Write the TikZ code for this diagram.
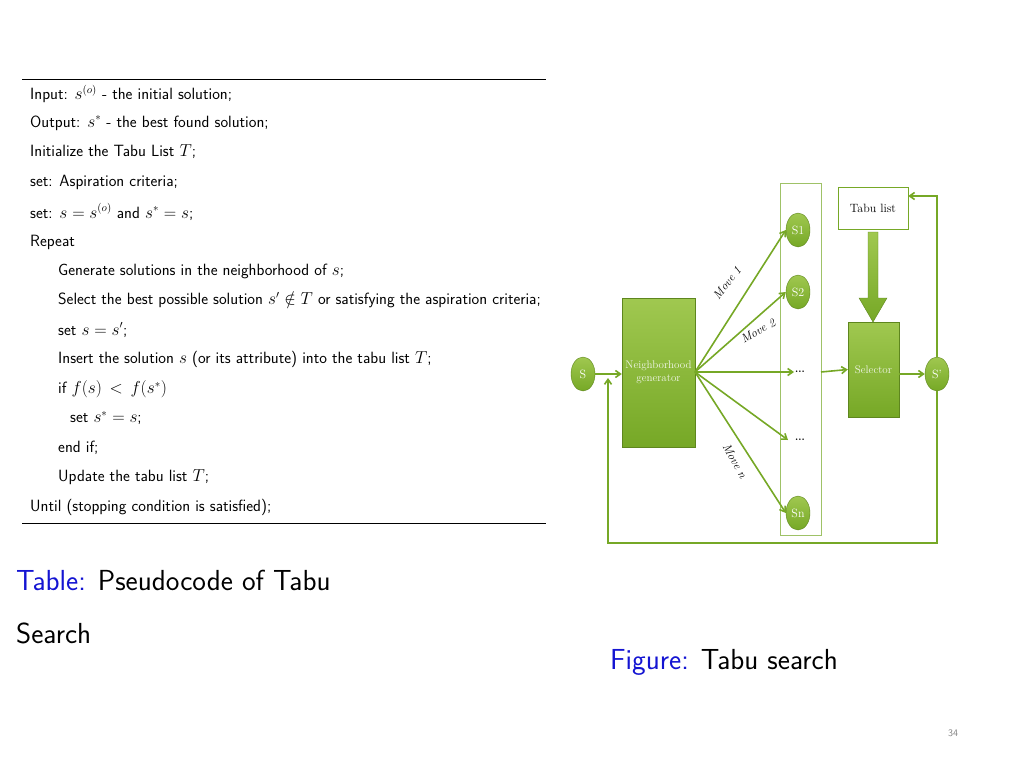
\documentclass[tikz,border=0pt]{standalone}
\usepackage{amsmath,amssymb}
\usetikzlibrary{arrows.meta,shapes.geometric}
\definecolor{gr}{RGB}{118,168,38}
\definecolor{grl}{RGB}{160,200,80}
\definecolor{capblue}{RGB}{20,20,210}
\begin{document}
\begin{tikzpicture}[x=1pt,y=-1pt,
  code/.style={anchor=west,font=\sffamily\fontsize{16.3}{18}\selectfont,inner sep=0},
  gbox/.style={draw=gr!80!black,top color=grl,bottom color=gr,text=white!90!gr,font=\rmfamily\fontsize{11}{13}\selectfont,align=center,inner sep=1},
  gell/.style={ellipse,draw=gr!80!black,top color=grl,bottom color=gr,text=white,font=\rmfamily\fontsize{12}{13}\selectfont,minimum width=24,minimum height=34,inner sep=0},
  ar/.style={draw=gr,line width=1.6pt,-{Straight Barb[length=5pt,width=7pt]}},
  mv/.style={font=\rmfamily\itshape\fontsize{12}{13}\selectfont,inner sep=0}]
\useasboundingbox (0,0) rectangle (1024,768);
% pseudocode
\draw[line width=0.8pt] (22,79) -- (546,79);
\draw[line width=0.8pt] (22,523) -- (546,523);
\node[code] (l1) at (30,94) {Input: $s^{(o)}$ - the initial solution;};
\node[code] (l2) at (30,123) {Output: $s^*$ - the best found solution;};
\node[code] (l3) at (30,152) {Initialize the Tabu List $T$;};
\node[code] (l4) at (30,182) {set: Aspiration criteria;};
\node[code] (l5) at (30,212) {set: $s=s^{(o)}$ and $s^*=s$;};
\node[code] (l6) at (30,242) {Repeat};
\node[code] (l7) at (58,271) {Generate solutions in the neighborhood of $s$;};
\node[code] (l8) at (58,300) {Select the best possible solution $s'\notin T$ or satisfying the aspiration criteria;};
\node[code] (l9) at (58,330) {set $s=s'$;};
\node[code] (l10) at (58,359) {Insert the solution $s$ (or its attribute) into the tabu list $T$;};
\node[code] (l11) at (58,389) {if $f(s)\,<\,f(s^*)$};
\node[code] (l12) at (70,418) {set $s^*=s$;};
\node[code] (l13) at (58,448) {end if;};
\node[code] (l14) at (58,477) {Update the tabu list $T$;};
\node[code] (l15) at (30,507) {Until (stopping condition is satisfied);};
% captions
\node[anchor=west,font=\sffamily\fontsize{29}{32}\selectfont,inner sep=0] (c1) at (16,580) {\textcolor{capblue}{Table:} Pseudocode of Tabu};
\node[anchor=west,font=\sffamily\fontsize{29}{32}\selectfont,inner sep=0] (c2) at (16,633) {Search};
\node[anchor=west,font=\sffamily\fontsize{29}{32}\selectfont,inner sep=0] (c3) at (610,662) {\textcolor{capblue}{Figure:} Tabu search};
\node[font=\sffamily\fontsize{10}{12}\selectfont,text=gray] (pg) at (953,733) {34};
% diagram
\draw[draw=gr!70,line width=0.6pt] (780,183) rectangle (821,535);
\node[gell] (s) at (583,374) {S};
\node[gbox,minimum width=73,minimum height=149] (ng) at (658.5,372.5) {Neighborhood\\generator};
\coordinate (fan) at (695,372);
\node[gell] (s1) at (798,230) {S1};
\node[gell] (s2) at (798,292) {S2};
\node[font=\bfseries,inner sep=1] (d1) at (800,372) {...};
\node[font=\bfseries,inner sep=1] (d2) at (800,440) {...};
\node[gell] (sn) at (798,513) {Sn};
\node[draw=gr,fill=white,minimum width=70,minimum height=42,font=\rmfamily\fontsize{12}{13}\selectfont] (tl) at (873,208) {Tabu list};
\node[gbox,minimum width=51,minimum height=95] (sel) at (873.5,369.5) {Selector};
\node[gell] (sp) at (937,374) {S'};
\draw[ar] (s.east) -- (ng.west |- s.east);
\draw[ar] (fan) -- (s1.west);
\draw[ar] (fan) -- (s2.west);
\draw[ar] (fan) -- (d1.west);
\draw[ar] (fan) -- (788,440);
\draw[ar] (fan) -- (sn.west);
\draw[ar] (821,372) -- (sel.west);
\draw[ar] (sel.east |- sp.west) -- (sp.west);
\draw[ar] (sp.north) -- (937,196) -- (tl.east |- 0,196);
\draw[ar] (sp.south) -- (937,543) -- (608,543) -- (608,378);
\draw[draw=gr!80!black,top color=grl,bottom color=gr] (868,232) -- (878,232) -- (878,298) -- (887,298) -- (873,322) -- (859,298) -- (868,298) -- cycle;
\node[mv,rotate=52] (m1) at (727,283) {Move 1};
\node[mv,rotate=30] (m2) at (758,331) {Move 2};
\node[mv,rotate=-62] (mn) at (735,461) {Move n};
\end{tikzpicture}
\end{document}
